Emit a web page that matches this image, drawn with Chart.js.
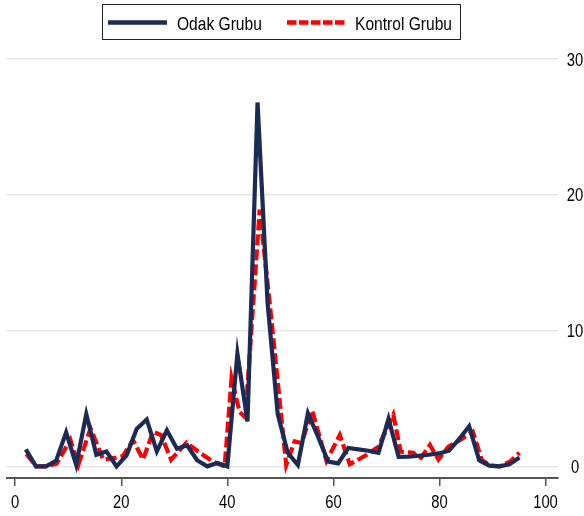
<!DOCTYPE html>
<html>
<head>
<meta charset="utf-8">
<script src="https://cdn.jsdelivr.net/npm/chart.js@4.4.1/dist/chart.umd.min.js"></script>
<style>
  html, body { margin: 0; padding: 0; background: #fff; }
  #chart { display: block; }
</style>
</head>
<body>
<canvas id="chart" width="584" height="516"></canvas>
<script>
// values
const odakX = [2.0, 3.9, 5.8, 7.7, 9.6, 11.5, 13.4, 15.3, 17.2, 19.1,
  21.0, 22.9, 24.8, 26.7, 28.6, 30.5, 32.4, 34.3, 36.2, 38.1,
  40.0, 41.9, 43.8, 45.7, 47.6, 49.5, 51.4, 53.3, 55.2, 57.1,
  59.0, 60.9, 62.8, 64.7, 66.6, 68.5, 70.4, 72.3, 74.2, 76.1,
  78.0, 79.9, 81.8, 83.7, 85.6, 87.5, 89.4, 91.3, 93.2, 95.1];
const odakY = [1.25, 0, 0, 0.4, 2.5, 0.1, 3.85, 0.85, 1.1, 0,
  0.8, 2.75, 3.45, 1.1, 2.65, 1.3, 1.55, 0.45, 0, 0.25,
  0, 8.3, 3.3, 26.8, 12.0, 3.85, 1.0, 0.1, 3.9, 2.2,
  0.35, 0.22, 1.35, 1.25, 1.15, 1.0, 3.5, 0.7, 0.72, 0.78,
  0.85, 0.95, 1.15, 2.0, 2.95, 0.45, 0.05, 0, 0.15, 0.65];

const kontrolX = [2.1, 4.0, 5.9, 7.8, 10.4, 11.9, 14.2, 16.6, 18.8, 20.3,
  22.2, 24.1, 26.0, 27.5, 29.4, 32.3, 34.8, 37.3, 39.5, 40.8,
  42.3, 43.4, 46.1, 48.0, 49.7, 51.1, 52.7, 54.0, 56.0, 58.7,
  61.2, 63.1, 66.3, 68.5, 71.3, 72.7, 75.1, 76.3, 78.2, 79.8,
  81.7, 83.9, 86.3, 88.0, 89.6, 91.4, 93.3, 95.1];
const kontrolY = [0.9, 0, 0, 0.2, 1.95, 0.1, 2.8, 0.5, 0.62, 0.75,
  1.94, 0.5, 2.55, 2.3, 0.5, 1.74, 1.0, 0.34, 0, 6.5,
  4.0, 3.6, 18.9, 12.0, 5.5, 0.1, 1.85, 1.7, 4.1, 0.4,
  2.3, 0.15, 0.85, 1.45, 3.8, 1.07, 1.0, 0.5, 1.57, 0.5,
  1.45, 1.95, 2.55, 0.46, 0.05, 0, 0.34, 1.0];

const xTicks = [0, 20, 40, 60, 80, 100];
const yTicks = [0, 10, 20, 30];
const seriesNames = ["Odak Grubu", "Kontrol Grubu"];

const NAVY = "#1c2b55";
const RED = "#ff0000";
const FONT = '"Liberation Sans", Arial, sans-serif';
const SQUEEZE = 0.82; // narrow look of the stata font

function toPoints(xs, ys) {
  return xs.map((x, i) => ({ x: x, y: ys[i] }));
}

function narrowText(ctx, text, x, y, align) {
  ctx.save();
  ctx.translate(x, y);
  ctx.scale(SQUEEZE, 1);
  ctx.textAlign = align;
  ctx.textBaseline = "alphabetic";
  ctx.fillText(text, 0, 0);
  ctx.restore();
}

// tick labels + legend box, drawn with a squeezed font
const stataText = {
  id: "stataText",
  afterDraw(chart) {
    const ctx = chart.ctx;
    const xs = chart.scales.x;
    const ys = chart.scales.y;
    ctx.save();
    ctx.fillStyle = "#000";
    ctx.font = "18px " + FONT;
    xTicks.forEach((v) => narrowText(ctx, String(v), xs.getPixelForValue(v), 508, "center"));
    yTicks.forEach((v) => narrowText(ctx, String(v), 575, ys.getPixelForValue(v) + 6.5, "center"));

    ctx.strokeStyle = "#222";
    ctx.lineWidth = 1;
    ctx.strokeRect(102.5, 4.5, 358, 35);

    ctx.lineWidth = 4.6;
    ctx.strokeStyle = NAVY;
    ctx.beginPath();
    ctx.moveTo(108, 22.5);
    ctx.lineTo(167, 22.5);
    ctx.stroke();

    ctx.strokeStyle = RED;
    ctx.setLineDash([9.5, 2.5]);
    ctx.beginPath();
    ctx.moveTo(287, 22.5);
    ctx.lineTo(345, 22.5);
    ctx.stroke();
    ctx.setLineDash([]);

    ctx.font = "19px " + FONT;
    narrowText(ctx, seriesNames[0], 177, 30, "left");
    narrowText(ctx, seriesNames[1], 355, 30, "left");
    ctx.restore();
  },
};

new Chart(document.getElementById("chart"), {
  type: "line",
  data: {
    datasets: [
      {
        label: seriesNames[0],
        data: toPoints(odakX, odakY),
        borderColor: NAVY,
        borderWidth: 4.2,
        pointRadius: 0,
        tension: 0,
        fill: false,
      },
      {
        label: seriesNames[1],
        data: toPoints(kontrolX, kontrolY),
        borderColor: RED,
        borderWidth: 4.2,
        borderDash: [11, 4],
        pointRadius: 0,
        tension: 0,
        fill: false,
      },
    ],
  },
  options: {
    responsive: false,
    animation: false,
    layout: { padding: { left: 7, top: 59, right: 0, bottom: 0 } },
    plugins: {
      legend: { display: false },
      tooltip: { enabled: false },
    },
    scales: {
      x: {
        type: "linear",
        min: -1.55,
        max: 102.36,
        afterBuildTicks: (scale) => {
          scale.ticks = xTicks.map((v) => ({ value: v }));
        },
        afterFit: (scale) => {
          scale.height = 38;
        },
        grid: {
          drawOnChartArea: false,
          drawTicks: true,
          tickLength: 8,
          color: "#555",
          lineWidth: 1.5,
        },
        border: { display: true, color: "#555", width: 2 },
        ticks: { display: false },
      },
      y: {
        type: "linear",
        position: "right",
        min: -0.86,
        max: 30,
        afterBuildTicks: (scale) => {
          scale.ticks = yTicks.map((v) => ({ value: v }));
        },
        afterFit: (scale) => {
          scale.width = 26;
        },
        grid: {
          drawTicks: false,
          color: "#e6e6e6",
          lineWidth: 1.5,
        },
        border: { display: false },
        ticks: { display: false },
      },
    },
  },
  plugins: [stataText],
});
</script>
</body>
</html>
